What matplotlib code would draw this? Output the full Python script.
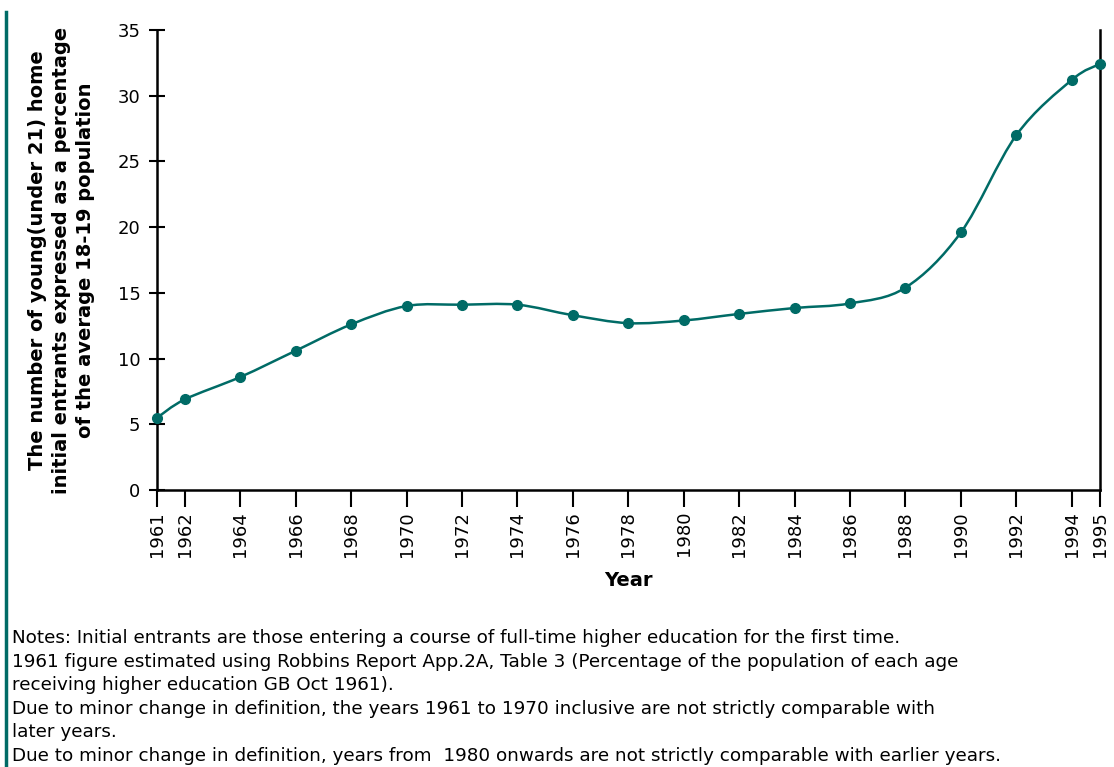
import matplotlib
matplotlib.use("Agg")
import matplotlib.pyplot as plt
from matplotlib.path import Path
from matplotlib.patches import PathPatch
from matplotlib.lines import Line2D

# data
years = [1961, 1962, 1964, 1966, 1968, 1970, 1972, 1974, 1976, 1978,
         1980, 1982, 1984, 1986, 1988, 1990, 1992, 1994, 1995]
rates = [5.5, 6.9, 8.6, 10.6, 12.6, 14.0, 14.1, 14.1, 13.3, 12.7,
         12.9, 13.4, 13.85, 14.2, 15.4, 19.6, 27.0, 31.2, 32.4]
y_ticks = [0, 5, 10, 15, 20, 25, 30, 35]

notes = [
    "Notes: Initial entrants are those entering a course of full-time higher education for the first time.",
    "1961 figure estimated using Robbins Report App.2A, Table 3 (Percentage of the population of each age",
    "receiving higher education GB Oct 1961).",
    "Due to minor change in definition, the years 1961 to 1970 inclusive are not strictly comparable with",
    "later years.",
    "Due to minor change in definition, years from  1980 onwards are not strictly comparable with earlier years.",
]

teal = "#006b66"
plt.rcParams['font.family'] = ['DejaVu Sans']

fig = plt.figure(figsize=(11.14, 7.67), dpi=100)
ax = fig.add_axes([0.141, 0.361, 0.846, 0.600])

# smoothed line through the points (Catmull-Rom as cubic bezier segments)
pts = list(zip(years, rates))
verts = [pts[0]]
codes = [Path.MOVETO]
for i in range(len(pts) - 1):
    p0 = pts[i - 1] if i > 0 else pts[i]
    p1 = pts[i]
    p2 = pts[i + 1]
    p3 = pts[i + 2] if i + 2 < len(pts) else pts[i + 1]
    c1 = (p1[0] + (p2[0] - p0[0]) / 6, p1[1] + (p2[1] - p0[1]) / 6)
    c2 = (p2[0] - (p3[0] - p1[0]) / 6, p2[1] - (p3[1] - p1[1]) / 6)
    verts += [c1, c2, p2]
    codes += [Path.CURVE4] * 3
ax.add_patch(PathPatch(Path(verts, codes), facecolor='none', edgecolor=teal,
                       lw=1.8, clip_on=False, zorder=3))
ax.plot(years, rates, linestyle='none', marker='o', markersize=7,
        color=teal, clip_on=False, zorder=4)

ax.set_xlim(1961, 1995)
ax.set_ylim(0, 35)
ax.set_xticks(years)
ax.set_xticklabels([str(y) for y in years], rotation=90, fontsize=13)
ax.set_yticks(y_ticks)
ax.set_yticklabels([str(v) for v in y_ticks], fontsize=13)
ax.tick_params(axis='y', direction='inout', length=12, width=1.5, pad=6)
ax.tick_params(axis='x', direction='out', length=12, width=1.5, pad=3)

ax.spines['top'].set_visible(False)
for s in ['left', 'bottom', 'right']:
    ax.spines[s].set_linewidth(1.8)

ax.set_xlabel('Year', fontsize=14, fontweight='bold', labelpad=10)
ax.set_ylabel('The number of young(under 21) home\n'
              'initial entrants expressed as a percentage\n'
              'of the average 18-19 population',
              fontsize=14, fontweight='bold', linespacing=1.35, labelpad=16)

# notes under the chart
for k, line in enumerate(notes):
    fig.text(0.011, 1 - (638 + k * 23.6) / 767, line, fontsize=13.2, va='center', ha='left')

# frame line at the left edge
fig.add_artist(Line2D([0.0055, 0.0055], [0.003, 0.985], color=teal, lw=2.5))

fig.savefig('out.png', dpi=100)
